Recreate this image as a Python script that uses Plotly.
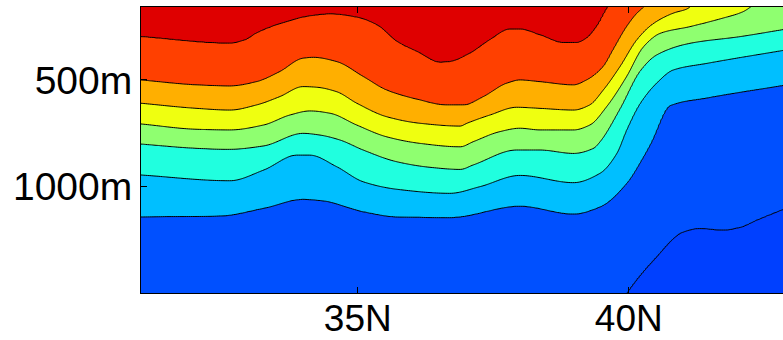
import numpy as np
import plotly.graph_objects as go

# Isoline depths (m) vs latitude (deg N), top to bottom
lat_l1 = [31.0, 32.64, 32.95, 33.13, 33.56, 34.12, 34.49, 34.98, 35.35, 35.72, 36.09, 36.52, 36.70, 37.07, 37.44, 37.81, 37.99, 38.36, 38.79, 39.04, 39.22, 39.41, 39.59, 39.90, 42.90]
dep_l1 = [297, 328, 309, 281, 237, 200, 191, 206, 242, 320, 367, 417, 414, 375, 312, 262, 262, 289, 325, 325, 305, 250, 169, 50, 0]

lat_l2 = [31.0, 32.03, 32.64, 33.13, 33.56, 33.99, 34.18, 34.61, 35.10, 35.53, 36.09, 36.64, 36.95, 37.32, 37.75, 37.99, 38.36, 38.98, 39.22, 39.53, 39.71, 39.96, 40.15, 40.27, 40.45, 42.90]
dep_l2 = [500, 523, 528, 508, 461, 398, 394, 414, 484, 547, 590, 617, 617, 578, 515, 500, 508, 523, 500, 437, 359, 250, 187, 159, 100, 0]

lat_l3 = [31.0, 32.03, 32.64, 33.13, 33.56, 33.99, 34.24, 34.61, 34.98, 35.53, 36.15, 36.89, 37.01, 37.44, 37.93, 38.36, 38.98, 39.28, 39.53, 39.84, 40.15, 40.45, 40.82, 41.10, 41.30, 42.90]
dep_l3 = [609, 633, 641, 617, 578, 531, 534, 555, 609, 672, 703, 716, 703, 664, 628, 633, 641, 617, 547, 437, 312, 237, 187, 164, 100, 0]

lat_l4 = [31.0, 32.03, 32.64, 33.26, 33.75, 34.12, 34.49, 34.98, 35.53, 36.15, 36.89, 37.13, 37.62, 37.99, 38.36, 38.98, 39.28, 39.59, 39.96, 40.27, 40.58, 41.13, 41.74, 42.11, 42.24, 42.50, 42.90]
dep_l4 = [706, 731, 734, 711, 664, 645, 656, 711, 766, 797, 813, 789, 742, 726, 734, 734, 711, 625, 484, 344, 281, 250, 210, 180, 159, 100, 60]

lat_l5 = [31.0, 32.03, 32.60, 33.26, 33.99, 34.30, 34.67, 35.10, 35.72, 36.33, 36.89, 37.13, 37.93, 38.36, 38.98, 39.35, 39.47, 39.84, 40.21, 40.51, 41.13, 42.05, 42.90]
dep_l5 = [800, 820, 825, 809, 750, 758, 781, 828, 883, 909, 919, 898, 828, 828, 844, 820, 789, 633, 457, 383, 328, 297, 262]

lat_l6 = [31.0, 32.64, 33.26, 33.87, 34.12, 34.61, 35.10, 35.72, 36.70, 37.25, 37.99, 38.98, 39.47, 39.78, 39.96, 40.21, 40.51, 40.82, 41.44, 42.90]
dep_l6 = [945, 972, 922, 852, 852, 906, 977, 1012, 1031, 1000, 947, 981, 937, 844, 734, 609, 515, 453, 422, 359]

lat_l7 = [31.0, 32.45, 33.26, 33.99, 34.36, 35.10, 35.72, 36.70, 37.99, 38.98, 39.47, 39.96, 40.27, 40.40, 40.76, 41.44, 42.90]
dep_l7 = [1141, 1137, 1101, 1059, 1066, 1117, 1141, 1144, 1091, 1128, 1094, 984, 860, 800, 620, 584, 523]

lat_l8 = [31.0, 39.50, 39.96, 40.45, 41.01, 41.31, 41.74, 42.05, 42.36, 42.90]
dep_l8 = [1800, 1700, 1497, 1344, 1211, 1195, 1203, 1190, 1156, 1100]

band_colors = ["#DF0000", "#FF4000", "#FFAF00", "#EFFF10", "#8FFF70",
               "#20FFDF", "#00BFFF", "#0050FF", "#0040FF"]

x_ticks = [35, 40]
x_labels = ["35N", "40N"]
y_ticks = [500, 1000]
y_labels = ["500m", "1000m"]

lines = [(lat_l1, dep_l1), (lat_l2, dep_l2), (lat_l3, dep_l3), (lat_l4, dep_l4),
         (lat_l5, dep_l5), (lat_l6, dep_l6), (lat_l7, dep_l7), (lat_l8, dep_l8)]


def pchip(xk, yk, xq):
    """Monotone cubic (Fritsch-Carlson) curve through the read points."""
    xk = np.asarray(xk, float)
    yk = np.asarray(yk, float)
    h = np.diff(xk)
    delta = np.diff(yk) / h
    m = np.zeros_like(yk)
    m[0], m[-1] = delta[0], delta[-1]
    for i in range(1, len(xk) - 1):
        if delta[i - 1] * delta[i] > 0:
            w1 = 2 * h[i] + h[i - 1]
            w2 = h[i] + 2 * h[i - 1]
            m[i] = (w1 + w2) / (w1 / delta[i - 1] + w2 / delta[i])
    xq = np.clip(np.asarray(xq, float), xk[0], xk[-1])
    idx = np.clip(np.searchsorted(xk, xq) - 1, 0, len(xk) - 2)
    t = (xq - xk[idx]) / h[idx]
    h00 = 2 * t**3 - 3 * t**2 + 1
    h10 = t**3 - 2 * t**2 + t
    h01 = -2 * t**3 + 3 * t**2
    h11 = t**3 - t**2
    return h00 * yk[idx] + h10 * h[idx] * m[idx] + h01 * yk[idx + 1] + h11 * h[idx] * m[idx + 1]


lat_grid = np.linspace(31.0, 42.9, 300)
dep_grid = np.arange(150.0, 1506.0, 3.0)
curves = [pchip(lx, ld, lat_grid) for lx, ld in lines]
z = np.zeros((len(dep_grid), len(lat_grid)))
for j in range(len(lat_grid)):
    d = [-1000.0] + [c[j] for c in curves] + [5000.0]
    d = np.maximum.accumulate(np.array(d) + np.arange(len(d)) * 1e-6)
    z[:, j] = np.interp(dep_grid, d, np.arange(len(d)))

n = len(band_colors)
cscale = []
for k, c in enumerate(band_colors):
    lo = max(0.0, (k - 0.5) / (n - 1))
    hi = min(1.0, (k + 0.5) / (n - 1))
    cscale += [[lo, c], [hi, c]]

fig = go.Figure(go.Contour(
    x=lat_grid, y=dep_grid, z=z,
    autocontour=False,
    contours=dict(start=1, end=8, size=1, coloring="fill"),
    colorscale=cscale, showscale=False,
    line=dict(color="black", width=1, smoothing=1),
    hoverinfo="skip",
))

fig.update_layout(
    width=783, height=340,
    margin=dict(l=141, r=0, t=7, b=47),
    paper_bgcolor="white", plot_bgcolor="white",
    font=dict(family="Liberation Sans, Arial, sans-serif", size=39, color="black"),
    showlegend=False,
)
fig.update_xaxes(range=[31.0, 31.0 + 642 / 54.2], tickvals=x_ticks, ticktext=x_labels,
                 ticks="inside", ticklen=6, tickcolor="black", showline=True,
                 linecolor="black", linewidth=1, mirror="ticks", automargin=False,
                 showgrid=False, zeroline=False, ticklabelstandoff=-7,
                 tickfont=dict(size=37))
fig.update_yaxes(range=[1498, 158], tickvals=y_ticks, ticktext=y_labels,
                 ticks="inside", ticklen=6, tickcolor="black", showline=True,
                 linecolor="black", linewidth=1, mirror=False, automargin=False,
                 showgrid=False, zeroline=False, ticklabelstandoff=0)

fig.write_html("out.html")
